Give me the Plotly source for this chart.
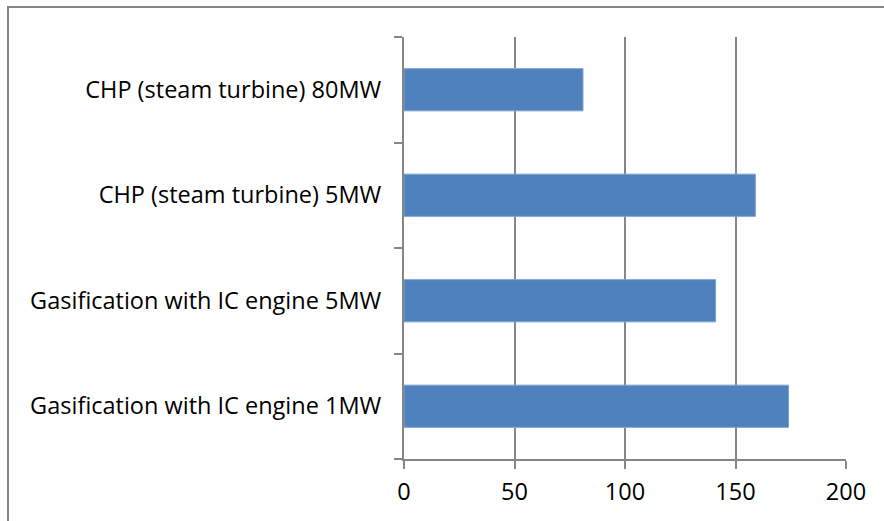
import plotly.graph_objects as go

categories = [
    "Gasification with IC engine 1MW",
    "Gasification with IC engine 5MW",
    "CHP (steam turbine) 5MW",
    "CHP (steam turbine) 80MW",
]
values = [174, 141, 159, 81]
x_ticks = [0, 50, 100, 150, 200]

W, H = 884, 521
L, R, T, B = 404, 38, 37, 62
pw, ph = W - L - R, H - T - B

fig = go.Figure(go.Bar(
    y=categories, x=values, orientation="h",
    marker=dict(color="#4F81BD", line=dict(color="#7FA2D3", width=1)),
    width=0.4,
))

grey = "#868686"
font = dict(family="Open Sans, sans-serif", size=23.5, color="#000000")

fig.update_layout(
    width=W, height=H,
    margin=dict(l=L, r=R, t=T, b=B),
    paper_bgcolor="white", plot_bgcolor="white",
    showlegend=False,
    font=font,
    xaxis=dict(
        range=[0, 200], tickvals=x_ticks, showgrid=True, gridcolor=grey, gridwidth=1.5,
        showline=True, linecolor=grey, linewidth=2, ticks="outside", ticklen=8,
        tickcolor=grey, tickwidth=1.5, zeroline=False, ticklabelstandoff=3,
        tickfont=font, fixedrange=True,
    ),
    yaxis=dict(
        categoryorder="array", categoryarray=categories,
        showline=True, linecolor=grey, linewidth=2, ticks="outside", ticklen=8,
        tickson="boundaries", tickcolor=grey, tickwidth=1.5, showgrid=False,
        ticklabelstandoff=16, tickfont=font, fixedrange=True,
    ),
)

# chart frame (left and top edges visible)
fig.add_shape(
    type="rect", xref="paper", yref="paper",
    x0=(8 - L) / pw, x1=(W + 10 - L) / pw,
    y0=(T + ph - (H + 10)) / ph, y1=(T + ph - 7) / ph,
    line=dict(color=grey, width=2), fillcolor="rgba(0,0,0,0)", layer="below",
)

fig.write_html("out.html")
